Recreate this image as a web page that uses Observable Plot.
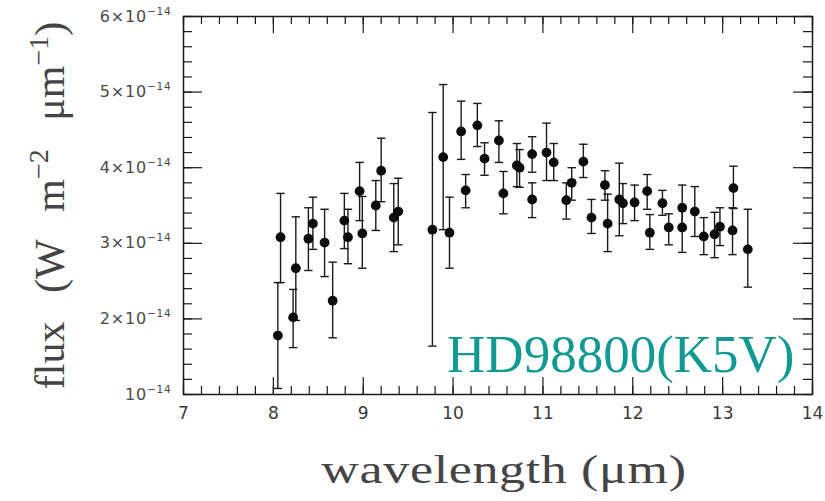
<!DOCTYPE html>
<html>
<head>
<meta charset="utf-8">
<script src="https://cdn.jsdelivr.net/npm/d3@7"></script>
<script src="https://cdn.jsdelivr.net/npm/@observablehq/plot@0.6"></script>
<style>
  html, body { margin: 0; padding: 0; background: #fff; }
  #chart svg { display: block; }
</style>
</head>
<body>
<div id="chart"></div>
<script>
// wavelength in µm, flux in units of 1e-14 W m^-2 µm^-1
const wavelength = [8.05,8.08,8.22,8.25,8.39,8.44,8.57,8.66,8.79,8.83,8.96,8.99,9.14,9.20,9.34,9.39,9.77,9.89,9.96,10.09,10.14,10.27,10.35,10.51,10.56,10.71,10.74,10.88,10.88,11.04,11.12,11.26,11.32,11.45,11.54,11.69,11.72,11.85,11.89,12.02,12.16,12.19,12.33,12.40,12.55,12.55,12.69,12.79,12.91,12.97,13.11,13.12,13.28];
const flux = [1.78,3.08,2.02,2.67,3.06,3.26,3.01,2.24,3.30,3.08,3.69,3.13,3.50,3.96,3.34,3.42,3.18,4.14,3.14,4.48,3.70,4.56,4.12,4.36,3.66,4.03,4.00,4.18,3.58,4.20,4.07,3.57,3.80,4.08,3.34,3.77,3.26,3.58,3.53,3.54,3.69,3.14,3.53,3.21,3.47,3.21,3.42,3.09,3.12,3.22,3.17,3.73,2.92];
const fluxHigh = [2.48,3.66,2.39,3.35,3.47,3.61,3.45,2.75,3.66,3.45,4.07,3.62,3.83,4.39,3.79,3.86,4.73,5.10,3.61,4.88,3.91,4.85,4.33,4.62,3.95,4.32,4.24,4.41,3.80,4.59,4.32,3.80,4.00,4.31,3.58,3.96,3.65,4.06,3.79,3.77,3.91,3.38,3.70,3.39,3.77,3.49,3.75,3.34,3.41,3.47,3.47,4.02,3.45];
const fluxLow = [1.08,2.48,1.62,1.98,2.64,2.92,2.56,1.75,2.93,2.73,3.30,2.67,3.17,3.55,2.89,2.98,1.64,3.18,2.67,4.11,3.47,4.28,3.90,4.07,3.39,3.75,3.74,3.94,3.34,3.83,3.83,3.32,3.57,3.87,3.13,3.57,2.89,3.10,3.26,3.30,3.45,2.92,3.37,2.98,3.18,2.88,3.09,2.85,2.81,2.97,2.85,3.46,2.42];

const xTicks = [7, 8, 9, 10, 11, 12, 13, 14];
const yTicks = [1, 2, 3, 4, 5, 6];
const yTickLabels = ["10^{\u221214}", "2\u00d710^{\u221214}", "3\u00d710^{\u221214}", "4\u00d710^{\u221214}", "5\u00d710^{\u221214}", "6\u00d710^{\u221214}"];
const xMinorTicks = d3.range(0, 36).map(i => 7 + i * 0.2);
const yMinorTicks = d3.range(0, 26).map(i => 1 + i * 0.2);

const xTitle = "wavelength (\u03bcm)";
const yTitle = "flux (W m^{\u22122} \u03bcm^{\u22121})";
const starLabel = "HD98800(K5V)";

const data = wavelength.map((x, i) => ({x, y: flux[i], lo: fluxLow[i], hi: fluxHigh[i]}));

const W = 825, H = 501, mL = 183, mR = 13, mT = 16, mB = 107;
const innerW = W - mL - mR, innerH = H - mT - mB;
const ink = "#1a1a1a";

const capSymbol = {
  draw(ctx, size) {
    const r = Math.sqrt(size / Math.PI);
    ctx.moveTo(-r, 0);
    ctx.lineTo(r, 0);
  }
};

const chart = Plot.plot({
  width: W,
  height: H,
  marginLeft: mL,
  marginRight: mR,
  marginTop: mT,
  marginBottom: mB,
  style: {fontFamily: "DejaVu Sans", fontSize: "16px", background: "#fff", color: ink},
  x: {domain: [7, 14], label: null},
  y: {domain: [1, 6], label: null},
  marks: [
    // minor & major ticks on all four sides (inward)
    Plot.tickX(xMinorTicks, {x: d => d, insetTop: innerH - 8, stroke: ink, strokeWidth: 1.2}),
    Plot.tickX(xMinorTicks, {x: d => d, insetBottom: innerH - 8, stroke: ink, strokeWidth: 1.2}),
    Plot.tickX(xTicks, {x: d => d, insetTop: innerH - 17, stroke: ink, strokeWidth: 1.2}),
    Plot.tickX(xTicks, {x: d => d, insetBottom: innerH - 17, stroke: ink, strokeWidth: 1.2}),
    Plot.tickY(yMinorTicks, {y: d => d, insetRight: innerW - 9, stroke: ink, strokeWidth: 1.2}),
    Plot.tickY(yMinorTicks, {y: d => d, insetLeft: innerW - 9, stroke: ink, strokeWidth: 1.2}),
    Plot.tickY(yTicks, {y: d => d, insetRight: innerW - 19, stroke: ink, strokeWidth: 1.2}),
    Plot.tickY(yTicks, {y: d => d, insetLeft: innerW - 19, stroke: ink, strokeWidth: 1.2}),
    Plot.frame({stroke: ink, strokeWidth: 1.5}),
    // error bars
    Plot.ruleX(data, {x: "x", y1: "lo", y2: "hi", stroke: ink, strokeWidth: 1.4}),
    Plot.dot(data, {x: "x", y: "hi", symbol: capSymbol, r: 4.2, fill: "none", stroke: ink, strokeWidth: 1.4}),
    Plot.dot(data, {x: "x", y: "lo", symbol: capSymbol, r: 4.2, fill: "none", stroke: ink, strokeWidth: 1.4}),
    // points
    Plot.dot(data, {x: "x", y: "y", r: 4.9, fill: "#0d0d0d", stroke: "none"}),
    // axes labels
    Plot.axisX({ticks: xTicks, tickSize: 0, tickPadding: 12, label: null, tickFormat: d => String(d), fill: "#3a3a3a", fontSize: 17}),
    Plot.axisY({ticks: yTicks, tickSize: 0, tickPadding: 12, label: null, tickFormat: d => yTickLabels[yTicks.indexOf(d)], fill: "#4a4a4a", fontSize: 16}),
    // titles
    Plot.text([xTitle], {frameAnchor: "bottom", text: d => d, dx: 6, dy: 88, lineAnchor: "bottom",
      fontFamily: "Liberation Serif", fontSize: 40, fill: "#444"}),
    Plot.text([yTitle], {frameAnchor: "left", text: d => d, dx: -120, dy: 0, rotate: -90, lineAnchor: "bottom",
      textAnchor: "middle", fontFamily: "Liberation Serif", fontSize: 42, fill: "#444"}),
    Plot.text([starLabel], {frameAnchor: "bottom-right", text: d => d, textAnchor: "end", lineAnchor: "bottom",
      dx: -18, dy: -23, fontFamily: "Liberation Serif", fontSize: 53, fill: "#129a92"})
  ]
});

document.getElementById("chart").appendChild(chart);

// superscripts: turn "a^{b}c" into tspans
const NS = "http://www.w3.org/2000/svg";
function supify(t, fs, rise) {
  const s = t.textContent;
  if (!s.includes("^{")) return;
  const parts = s.split(/(\^\{[^}]*\})/).filter(p => p !== "");
  t.textContent = "";
  let up = false;
  for (const p of parts) {
    const ts = document.createElementNS(NS, "tspan");
    if (p.startsWith("^{")) {
      ts.textContent = p.slice(2, -1);
      ts.setAttribute("font-size", fs);
      ts.setAttribute("dy", -rise);
      up = true;
    } else {
      ts.textContent = p;
      if (up) { ts.setAttribute("dy", rise); up = false; }
    }
    t.appendChild(ts);
  }
}
chart.querySelectorAll("text").forEach(t => {
  const s = t.textContent;
  if (s.startsWith("flux")) {
    supify(t, 28, 16);
    t.setAttribute("word-spacing", "18");
  } else if (s.includes("^{")) {
    supify(t, 10.5, 7);
    t.setAttribute("letter-spacing", "0.8");
  } else if (s === xTitle) {
    const tr = t.getAttribute("transform");
    if (tr) t.setAttribute("transform", tr + " scale(1.3,1)");
    t.setAttribute("letter-spacing", "0.5");
  }
});
</script>
</body>
</html>
